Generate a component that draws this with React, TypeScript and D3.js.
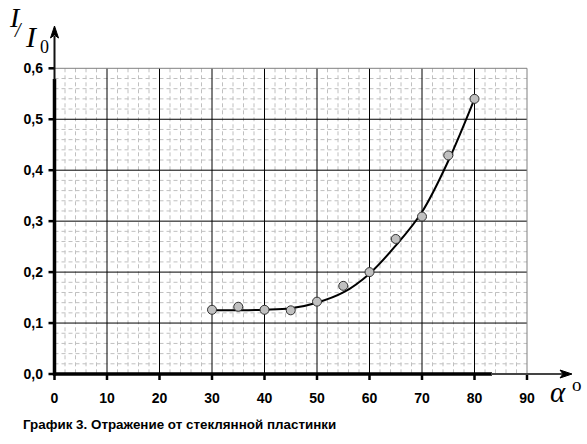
import { scaleLinear, line as d3Line, curveCatmullRom, range } from "d3";

// measured points, angle of incidence in degrees vs I/I0
const angles = [30, 35, 40, 45, 50, 55, 60, 65, 70, 75, 80];
const ratios = [0.126, 0.132, 0.126, 0.125, 0.142, 0.173, 0.2, 0.265, 0.309, 0.429, 0.54];

// trend curve
const fitAngles = [30, 35, 40, 45, 50, 55, 60, 65, 70, 75, 80];
const fitRatios = [0.125, 0.125, 0.126, 0.129, 0.14, 0.16, 0.197, 0.252, 0.318, 0.418, 0.54];

const xTicks = [0, 10, 20, 30, 40, 50, 60, 70, 80, 90];
const yTicks = [0, 0.1, 0.2, 0.3, 0.4, 0.5, 0.6];
const caption = "График 3. Отражение от стеклянной пластинки";

const W = 587;
const H = 444;

export default function App() {
  const x = scaleLinear().domain([0, 90]).range([54.5, 527]);
  const y = scaleLinear().domain([0, 0.6]).range([374, 68.3]);

  const minorX = range(0, 90, 2).filter((v) => v % 10 !== 0);
  const minorY = range(0, 60, 2).filter((v) => v % 10 !== 0).map((v) => v / 100);

  const fit = d3Line<number>()
    .x((d) => x(d))
    .y((_, i) => y(fitRatios[i]))
    .curve(curveCatmullRom.alpha(0.5))(fitAngles) ?? "";

  const fmt = (v: number) => v.toFixed(1).replace(".", ",");
  const x0 = x(0);
  const y0 = y(0);

  return (
    <svg
      width={W}
      height={H}
      viewBox={`0 0 ${W} ${H}`}
      style={{ position: "absolute", left: 0, top: 0, background: "#fff" }}
    >
      {/* minor dashed grid */}
      <g stroke="#c0c0c0" strokeWidth={1} strokeDasharray="4 3">
        {minorX.map((v) => (
          <line key={"mx" + v} x1={x(v)} x2={x(v)} y1={y(0.6)} y2={y0} />
        ))}
        {minorY.map((v) => (
          <line key={"my" + v} x1={x0} x2={x(90)} y1={y(v)} y2={y(v)} />
        ))}
      </g>
      {/* major grid */}
      <g stroke="#000" strokeWidth={1}>
        {xTicks.slice(1, -1).map((v) => (
          <line key={"gx" + v} x1={x(v)} x2={x(v)} y1={y(0.6)} y2={y0} />
        ))}
        {yTicks.slice(1, -1).map((v) => (
          <line key={"gy" + v} x1={x0} x2={x(90)} y1={y(v)} y2={y(v)} />
        ))}
      </g>
      <line x1={x0} x2={x(90)} y1={y(0.6)} y2={y(0.6)} stroke="#808080" />
      <line x1={x(90)} x2={x(90)} y1={y(0.6)} y2={y0} stroke="#808080" />

      {/* ticks */}
      <g stroke="#000" strokeWidth={2.5}>
        {xTicks.map((v) => (
          <line key={"tx" + v} x1={x(v)} x2={x(v)} y1={y0} y2={y0 + 6} />
        ))}
        {yTicks.map((v) => (
          <line key={"ty" + v} x1={x0 - 6} x2={x0} y1={y(v)} y2={y(v)} />
        ))}
      </g>

      {/* axes with arrows */}
      <line x1={x0} x2={x0} y1={y0 + 1.5} y2={79} stroke="#000" strokeWidth={3.5} />
      <line x1={x0} x2={x0} y1={80} y2={36} stroke="#111" strokeWidth={2} />
      <path d={`M${x0},26 L${x0 - 4},38 L${x0},35 L${x0 + 4},38 Z`} fill="#000" stroke="#000" />
      <line x1={x0 - 1.5} x2={492} y1={y0} y2={y0} stroke="#000" strokeWidth={3.5} />
      <line x1={491} x2={562} y1={y0} y2={y0} stroke="#444" strokeWidth={2} />
      <path d={`M572,${y0} L560,${y0 - 4} L563,${y0} L560,${y0 + 4} Z`} fill="#000" stroke="#000" />

      {/* tick labels */}
      <g fontFamily="'Liberation Sans', Arial, sans-serif" fontWeight="bold" fontSize={14} fill="#000">
        {xTicks.map((v) => (
          <text key={"lx" + v} x={x(v)} y={403} textAnchor="middle">
            {v}
          </text>
        ))}
        {yTicks.map((v) => (
          <text key={"ly" + v} x={43} y={y(v) + 5} textAnchor="end">
            {fmt(v)}
          </text>
        ))}
      </g>

      {/* fitted curve */}
      <path d={fit} fill="none" stroke="#000" strokeWidth={2} />

      {/* data points */}
      {angles.map((a, i) => (
        <circle key={a} cx={x(a)} cy={y(ratios[i])} r={4.5} fill="#c0c0c0" stroke="#333" strokeWidth={1} />
      ))}

      {/* axis titles */}
      <g fontFamily="'Liberation Serif', 'Times New Roman', serif" fill="#000">
        <text x={10} y={27} fontSize={28} fontStyle="italic">
          I
          <tspan x={15} y={37} fontSize={20}>/</tspan>
          <tspan x={26} y={47} fontSize={30}>I</tspan>
          <tspan x={40} y={53} fontSize={18} fontStyle="normal">0</tspan>
        </text>
        <text x={550} y={402} fontSize={29} fontStyle="italic">
          α
          <tspan x={572} y={391} fontSize={19} fontStyle="normal">o</tspan>
        </text>
      </g>

      <text x={23} y={429} fontFamily="'Liberation Sans', Arial, sans-serif" fontWeight="bold" fontSize={13.4} fill="#000">
        {caption}
      </text>
    </svg>
  );
}
